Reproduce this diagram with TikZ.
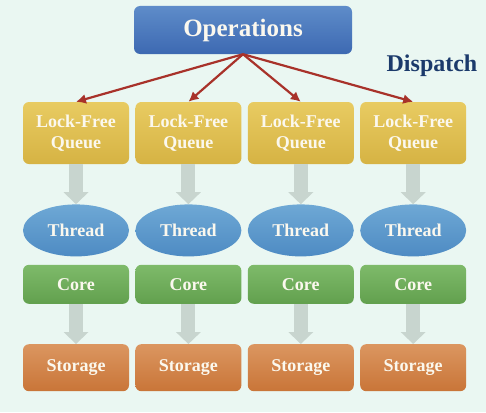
\documentclass[tikz,border=0pt]{standalone}
\usepackage{fontspec}
\setmainfont{Liberation Serif}
\usepackage{tikz}
\usetikzlibrary{arrows.meta}
\usetikzlibrary{positioning}
\usetikzlibrary{shapes.geometric}

\definecolor{bgmint}{HTML}{EAF7F2}
\definecolor{optop}{HTML}{5E8CC9}
\definecolor{opbot}{HTML}{3D69B2}
\definecolor{qtop}{HTML}{E8CB62}
\definecolor{qbot}{HTML}{D6B343}
\definecolor{ttop}{HTML}{6EA8D5}
\definecolor{tbot}{HTML}{4E8BC3}
\definecolor{ctop}{HTML}{7EBA6A}
\definecolor{cbot}{HTML}{62A04E}
\definecolor{stop}{HTML}{DB9660}
\definecolor{sbot}{HTML}{C97538}
\definecolor{redarrow}{HTML}{A8322A}
\definecolor{grayarrow}{HTML}{C8D5CF}
\definecolor{navy}{HTML}{1B3A6B}
\definecolor{boxtext}{HTML}{FBF8EE}

\begin{document}
\begin{tikzpicture}[x=1pt,y=1pt,node distance=40pt,
  box/.style={rectangle,rounded corners=6pt,minimum width=106pt,inner sep=0pt,
    align=center,text=boxtext,font=\fontsize{18}{21}\selectfont\bfseries},
  queue node/.style={box,minimum height=62pt,top color=qtop,bottom color=qbot},
  thread node/.style={box,ellipse,minimum height=52pt,top color=ttop,bottom color=tbot},
  core node/.style={box,minimum height=39pt,top color=ctop,bottom color=cbot},
  storage node/.style={box,minimum height=47pt,top color=stop,bottom color=sbot},
  dispatch arrow/.style={color=redarrow,line width=2.2pt,-{Latex[length=10pt,width=10pt]}},
  flow arrow/.style={color=grayarrow,line width=14pt,
    -{Triangle[length=12pt,width=25pt,line width=0pt]}}]

  \fill[bgmint] (0,0) rectangle (486,-412);
  \useasboundingbox (0,0) rectangle (486,-412);

  \node[box,minimum width=218pt,minimum height=48pt,top color=optop,bottom color=opbot,
    font=\fontsize{25}{28}\selectfont\bfseries] (ops) at (243,-30) {Operations};
  \node[text=navy,font=\fontsize{24}{28}\selectfont\bfseries] (disp) at (432,-66) {Dispatch};

  \node[queue node] (q1) at (76,-133) {Lock-Free\\Queue};
  \node[queue node] (q2) [right=6pt of q1] {Lock-Free\\Queue};
  \node[queue node] (q3) [right=6pt of q2] {Lock-Free\\Queue};
  \node[queue node] (q4) [right=6pt of q3] {Lock-Free\\Queue};

  \node[thread node] (t1) [below=of q1] {Thread};
  \node[thread node] (t2) [below=of q2] {Thread};
  \node[thread node] (t3) [below=of q3] {Thread};
  \node[thread node] (t4) [below=of q4] {Thread};

  \node[core node] (c1) [below=8pt of t1] {Core};
  \node[core node] (c2) [below=8pt of t2] {Core};
  \node[core node] (c3) [below=8pt of t3] {Core};
  \node[core node] (c4) [below=8pt of t4] {Core};

  \node[storage node] (s1) [below=of c1] {Storage};
  \node[storage node] (s2) [below=of c2] {Storage};
  \node[storage node] (s3) [below=of c3] {Storage};
  \node[storage node] (s4) [below=of c4] {Storage};

  \path[dispatch arrow]
    (ops.south) edge (q1.north)
    (ops.south) edge (q2.north)
    (ops.south) edge (q3.north)
    (ops.south) edge (q4.north);

  \path[flow arrow]
    (q1) edge (t1) (q2) edge (t2) (q3) edge (t3) (q4) edge (t4)
    (c1) edge (s1) (c2) edge (s2) (c3) edge (s3) (c4) edge (s4);

\end{tikzpicture}
\end{document}
